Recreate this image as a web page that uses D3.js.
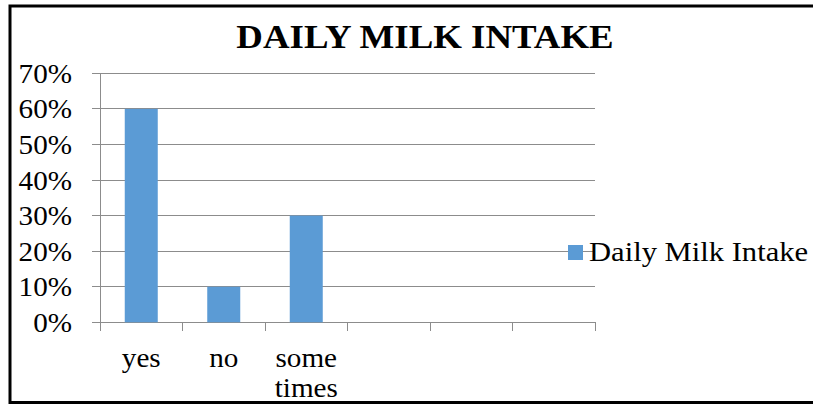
<!DOCTYPE html>
<html>

<head>
  <meta charset="utf8">
  <script src="https://d3js.org/d3.v7.min.js"></script>
  <style>
    body {
      margin: 0;
      background: #fff;
    }

    .grid line,
    .axis line {
      stroke: #8c8c8c;
      stroke-width: 1;
      shape-rendering: crispEdges;
    }
  </style>
</head>

<body>
  <svg id="chart" width="813" height="406"></svg>

  <script>
    var categories = ['yes', 'no', 'some times', '', '', ''];
    var intake = [0.60, 0.10, 0.30, null, null, null];
    var yTicks = [0, 0.1, 0.2, 0.3, 0.4, 0.5, 0.6, 0.7];
    var seriesName = 'Daily Milk Intake';
    var title = 'DAILY MILK INTAKE';

    var chart = d3.select('#chart');
    var plot = { left: 100, right: 595, top: 73.3, bottom: 322.3 };
    var stretch = 1.1;
    var serif = "'Liberation Serif', Tinos, 'Times New Roman', 'DejaVu Serif', serif";

    // frame, no right side
    chart.append('path')
      .attr('d', 'M813,6 H10 V402.5 H813')
      .attr('fill', 'none')
      .attr('stroke', '#000')
      .attr('stroke-width', 3);

    var x = d3.scaleBand()
      .domain(d3.range(categories.length))
      .range([plot.left, plot.right]);

    var y = d3.scaleLinear()
      .domain([0, 0.7])
      .range([plot.bottom, plot.top]);

    function stretchedText(sel, px, py, size) {
      return sel.append('text')
        .attr('transform', 'translate(' + px + ',' + py + ') scale(' + stretch + ',1)')
        .attr('font-family', serif)
        .attr('font-size', size)
        .attr('fill', '#000');
    }

    // gridlines
    chart.append('g')
      .attr('class', 'grid')
      .selectAll('line')
      .data(yTicks.slice(1))
      .enter().append('line')
      .attr('x1', plot.left)
      .attr('x2', plot.right)
      .attr('y1', (d) => y(d))
      .attr('y2', (d) => y(d));

    // y axis line and ticks
    var yAxis = chart.append('g').attr('class', 'axis y-axis');
    yAxis.append('line')
      .attr('x1', plot.left).attr('x2', plot.left)
      .attr('y1', plot.top).attr('y2', plot.bottom);
    yAxis.selectAll('.ytick')
      .data(yTicks)
      .enter().append('line')
      .attr('x1', plot.left - 8).attr('x2', plot.left)
      .attr('y1', (d) => y(d)).attr('y2', (d) => y(d));

    yTicks.forEach(function (t) {
      stretchedText(chart, 72, y(t) + 9.5, 26.5)
        .attr('text-anchor', 'end')
        .text(d3.format('.0%')(t));
    });

    // x axis with ticks at category boundaries
    var bounds = d3.range(categories.length + 1).map((i) => plot.left + i * x.step());
    var xAxis = chart.append('g').attr('class', 'axis x-axis');
    xAxis.append('line')
      .attr('x1', plot.left).attr('x2', plot.right)
      .attr('y1', plot.bottom).attr('y2', plot.bottom);
    xAxis.selectAll('.btick')
      .data(bounds)
      .enter().append('line')
      .attr('x1', (d) => d).attr('x2', (d) => d)
      .attr('y1', plot.bottom).attr('y2', plot.bottom + 9);

    categories.forEach(function (c, i) {
      if (!c) return;
      c.split(' ').forEach(function (w, j) {
        stretchedText(chart, x(i) + x.bandwidth() / 2, 367 + j * 29.5, 26.5)
          .attr('text-anchor', 'middle')
          .text(w);
      });
    });

    // bars
    var barW = x.bandwidth() * 0.4;
    chart.append('g')
      .selectAll('rect')
      .data(intake.map((v, i) => ({ v: v, i: i })).filter((d) => d.v != null))
      .enter().append('rect')
      .attr('x', (d) => x(d.i) + (x.bandwidth() - barW) / 2)
      .attr('y', (d) => y(d.v))
      .attr('width', barW)
      .attr('height', (d) => y(0) - y(d.v))
      .attr('fill', '#5b9bd5');

    // title
    stretchedText(chart, 425, 47.5, 33.5)
      .attr('text-anchor', 'middle')
      .attr('font-weight', 'bold')
      .text(title);

    // legend
    chart.append('rect')
      .attr('x', 568).attr('y', 245)
      .attr('width', 15).attr('height', 15)
      .attr('fill', '#5b9bd5');
    stretchedText(chart, 589, 261, 27.8)
      .text(seriesName);
  </script>
</body>

</html>
